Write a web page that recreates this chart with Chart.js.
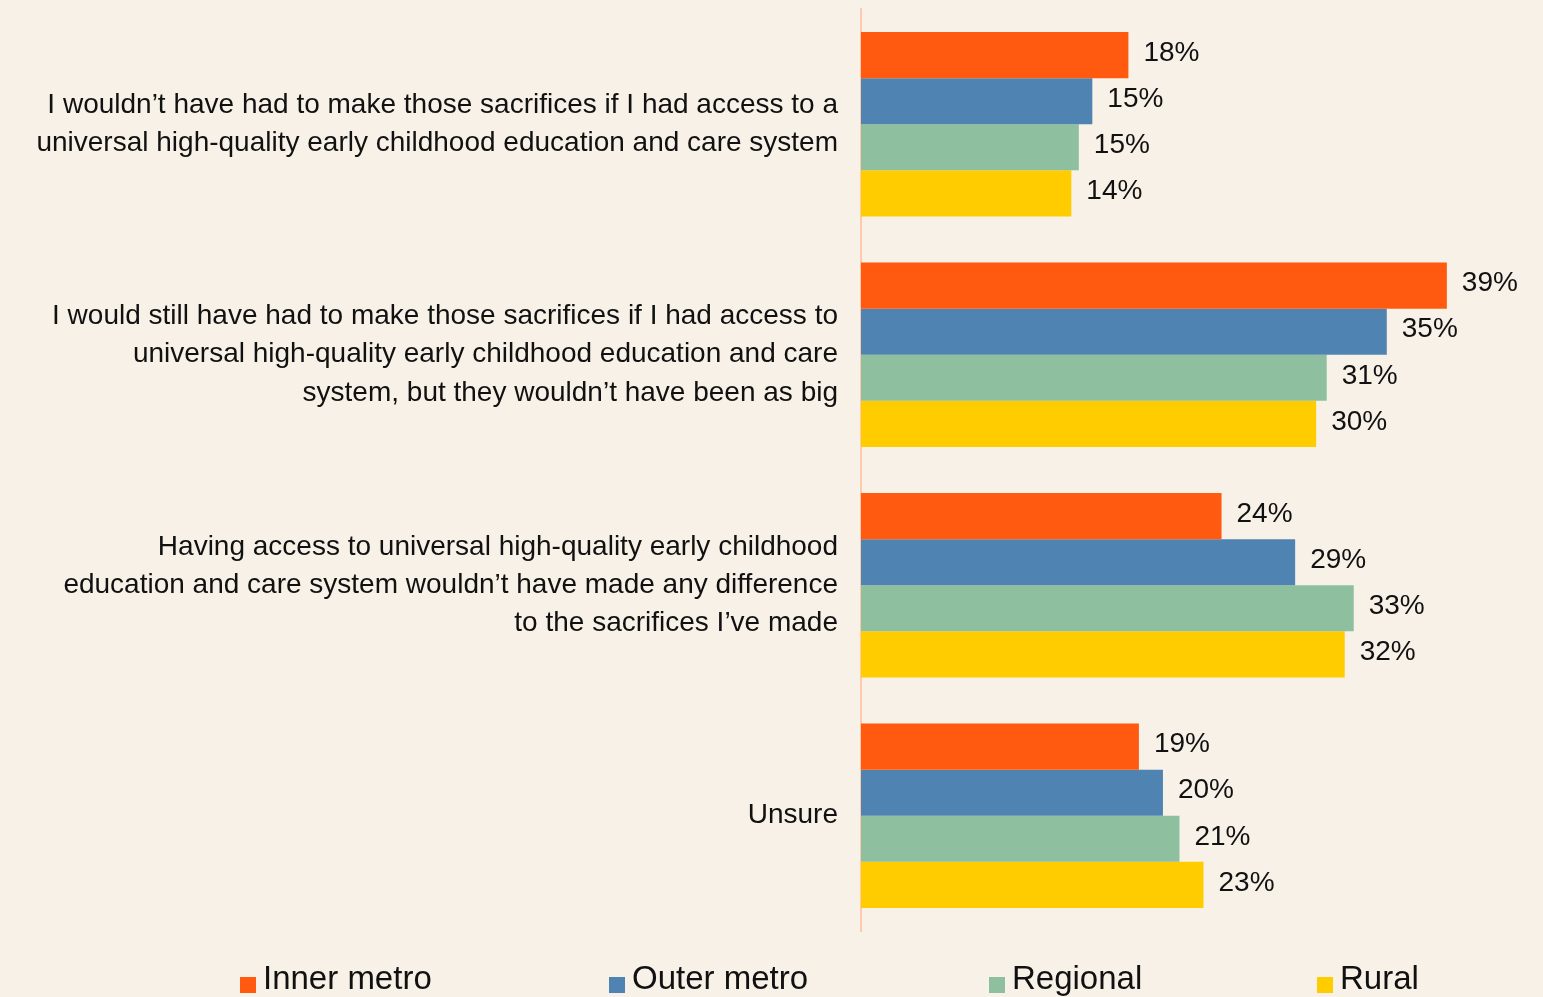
<!DOCTYPE html>
<html>
<head>
<meta charset="utf-8">
<script src="https://cdn.jsdelivr.net/npm/chart.js@4"></script>
<style>
  html, body { margin: 0; padding: 0; background: #f8f1e7; }
  #wrap { width: 1543px; height: 997px; position: relative; }
  #legend { position: absolute; left: 0; top: 0; width: 100%; height: 100%; pointer-events: none;
            font-family: 'Liberation Sans', Arial, sans-serif; font-size: 33px; color: #111; }
  #legend .box { position: absolute; width: 16px; height: 16px; top: 977px; }
  #legend .txt { position: absolute; top: 959px; line-height: normal; white-space: nowrap; }
</style>
</head>
<body>
<div id="wrap"><canvas id="chart"></canvas><div id="legend"></div></div>
<script>
const categories = [
  ["I wouldn\u2019t have had to make those sacrifices if I had access to a", "universal high-quality early childhood education and care system"],
  ["I would still have had to make those sacrifices if I had access to", "universal high-quality early childhood education and care", "system, but they wouldn\u2019t have been as big"],
  ["Having access to universal high-quality early childhood", "education and care system wouldn\u2019t have made any difference", "to the sacrifices I\u2019ve made"],
  "Unsure"
];
const seriesNames = ["Inner metro", "Outer metro", "Regional", "Rural"];
// bar lengths; the printed labels are these rounded
const innerMetro = [17.8, 39.0, 24.0, 18.5];
const outerMetro = [15.4, 35.0, 28.9, 20.1];
const regional = [14.5, 31.0, 32.8, 21.2];
const rural = [14.0, 30.3, 32.2, 22.8];
const colors = ["#ff5a0f", "#4f83b2", "#8ebf9e", "#ffcc00"];

const FONT = "'Liberation Sans', Arial, sans-serif";

// value labels at the end of each bar
const valueLabels = {
  id: "valueLabels",
  afterDatasetsDraw(chart) {
    const ctx = chart.ctx;
    ctx.save();
    ctx.font = "28px " + FONT;
    ctx.fillStyle = "#111";
    ctx.textBaseline = "middle";
    ctx.textAlign = "left";
    chart.data.datasets.forEach((ds, i) => {
      chart.getDatasetMeta(i).data.forEach((bar, j) => {
        ctx.fillText(Math.round(ds.data[j]) + "%", bar.x + 15, bar.y - 2);
      });
    });
    ctx.restore();
  }
};

const chart = new Chart(document.getElementById("chart"), {
  type: "bar",
  data: {
    labels: categories,
    datasets: [innerMetro, outerMetro, regional, rural].map((d, i) => ({
      label: seriesNames[i],
      data: d,
      backgroundColor: colors[i],
      borderWidth: 0,
      barPercentage: 1,
      categoryPercentage: 0.8
    }))
  },
  options: {
    indexAxis: "y",
    responsive: true,
    maintainAspectRatio: false,
    animation: false,
    layout: { padding: { top: 9, right: 6, bottom: 66, left: 0 } },
    scales: {
      x: {
        display: false,
        min: 0,
        max: 45
      },
      y: {
        grid: { display: false, drawTicks: false },
        border: { display: true, color: "#ffc9ae", width: 2 },
        ticks: {
          color: "#111",
          padding: 23,
          font: { family: FONT, size: 28, lineHeight: 1.36 }
        },
        afterFit(scale) {
          scale.width = 861;
          scale.paddingTop = 0;
          scale.paddingBottom = 0;
        }
      }
    },
    plugins: {
      legend: { display: false },
      tooltip: { enabled: false }
    }
  },
  plugins: [valueLabels]
});

// legend built from the chart's datasets
const legendX = [240, 609, 989, 1317];
const legendEl = document.getElementById("legend");
chart.data.datasets.forEach((ds, i) => {
  const box = document.createElement("div");
  box.className = "box";
  box.style.left = legendX[i] + "px";
  box.style.background = ds.backgroundColor;
  const txt = document.createElement("div");
  txt.className = "txt";
  txt.style.left = (legendX[i] + 23) + "px";
  txt.textContent = ds.label;
  legendEl.appendChild(box);
  legendEl.appendChild(txt);
});
</script>
</body>
</html>
